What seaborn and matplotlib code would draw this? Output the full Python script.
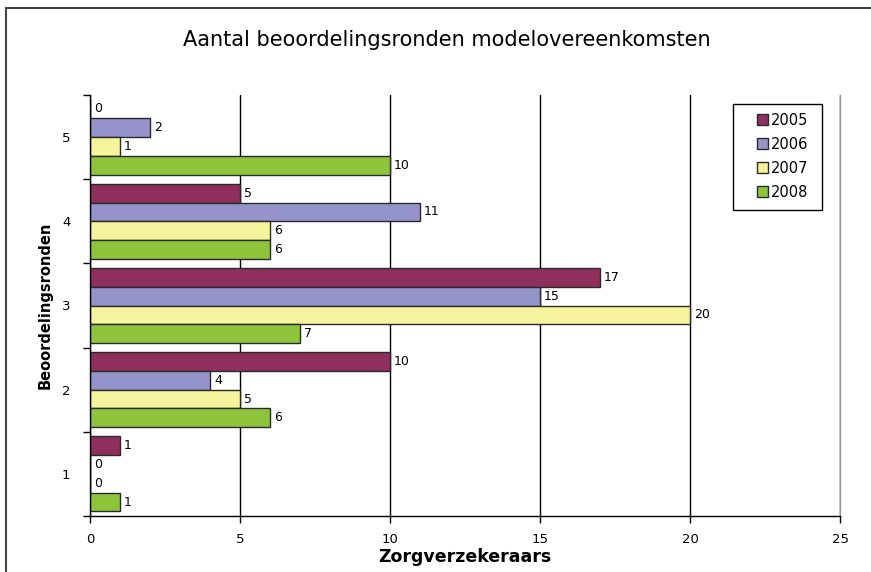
import matplotlib
matplotlib.use("Agg")
import matplotlib.pyplot as plt
import seaborn as sns
import pandas as pd
from matplotlib.patches import Rectangle
from matplotlib.ticker import FixedLocator

rounds = ["5", "4", "3", "2", "1"]
years = ["2005", "2006", "2007", "2008"]
v2005 = [0, 5, 17, 10, 1]
v2006 = [2, 11, 15, 4, 0]
v2007 = [1, 6, 20, 5, 0]
v2008 = [10, 6, 7, 6, 1]
colors = ["#8E2F5E", "#9494CA", "#F5F39C", "#8DC43C"]

title = "Aantal beoordelingsronden modelovereenkomsten"
xlabel = "Zorgverzekeraars"
ylabel = "Beoordelingsronden"
xticks = [0, 5, 10, 15, 20, 25]

rows = []
for y, vals in zip(years, [v2005, v2006, v2007, v2008]):
    for r, v in zip(rounds, vals):
        rows.append({"Ronde": r, "Jaar": y, "Aantal": v})
df = pd.DataFrame(rows)

sns.set_theme(style="white")
plt.rcParams["font.family"] = ["DejaVu Sans"]
plt.rcParams["text.color"] = "black"
plt.rcParams["axes.labelcolor"] = "black"
plt.rcParams["xtick.color"] = "black"
plt.rcParams["ytick.color"] = "black"

fig = plt.figure(figsize=(8.71, 5.72), dpi=100)
ax = fig.add_axes([90/871, 1-516/572, (840-90)/871, (516-95)/572])

sns.barplot(data=df, y="Ronde", x="Aantal", hue="Jaar", order=rounds,
            hue_order=years, palette=colors, orient="h", width=0.89,
            edgecolor="#2a2a2a", linewidth=1.0, saturation=1, ax=ax,
            legend=True)

for c in ax.containers:
    labels = [f"{int(v)}" for v in c.datavalues]
    ax.bar_label(c, labels=labels, padding=3, fontsize=9, color="black")

ax.set_xlim(0, 25)
ax.set_ylim(4.5, -0.5)
ax.xaxis.set_major_locator(FixedLocator(xticks))
ax.set_xticklabels([str(t) for t in xticks], fontsize=9.5)
ax.grid(axis="x", color="black", linewidth=1.0)
ax.grid(axis="y", visible=False)
ax.set_axisbelow(True)

ax.set_yticks(range(len(rounds)))
ax.set_yticklabels(rounds, fontsize=9.5)
ax.yaxis.set_minor_locator(FixedLocator([i - 0.5 for i in range(len(rounds) + 1)]))
ax.tick_params(axis="y", which="major", length=0, pad=14)
ax.tick_params(axis="y", which="minor", length=5, width=1, color="black", direction="out", left=True)
ax.tick_params(axis="x", which="major", length=5, width=1, color="black", direction="out", bottom=True, pad=7)

for s in ["left", "bottom"]:
    ax.spines[s].set_color("black")
    ax.spines[s].set_linewidth(1.0)
ax.spines["right"].set_color("#999999")
ax.spines["right"].set_linewidth(1.0)
ax.spines["top"].set_visible(False)

ax.set_xlabel(xlabel, fontsize=12.5, fontweight="bold", labelpad=2, color="black")
ax.set_ylabel(ylabel, fontsize=10.5, fontweight="bold", labelpad=7, color="black")

leg = ax.legend(loc="upper left", bbox_to_anchor=(0.889, 0.958), frameon=False,
                fontsize=10.5, handlelength=0.75, handleheight=0.75,
                handletextpad=0.25, labelspacing=0.62, borderpad=0.0,
                borderaxespad=0.0, labelcolor="black")
ax.add_patch(Rectangle((0.857, 0.727), 0.119, 0.252, transform=ax.transAxes,
                       fill=True, facecolor="white", edgecolor="black",
                       linewidth=1.0, zorder=4))
leg.set_zorder(5)

fig.text(447/871, 1-40/572, title, ha="center", va="center", fontsize=15,
         color="black")

fig.patches.append(Rectangle((6/871, -0.1), 1.2, 1 - 8/572 + 0.1,
                             transform=fig.transFigure, fill=False,
                             edgecolor="#444444", linewidth=1.5))

fig.savefig("out.png", dpi=100, facecolor="white")
